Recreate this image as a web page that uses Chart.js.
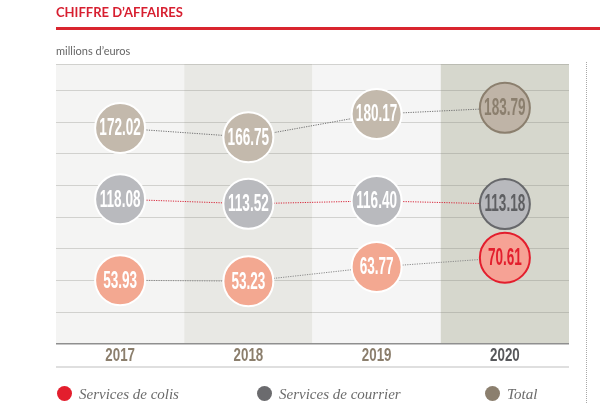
<!DOCTYPE html>
<html>
<head>
<meta charset="utf-8">
<script src="https://cdn.jsdelivr.net/npm/chart.js@4.4.0/dist/chart.umd.min.js"></script>
<style>
  html, body { margin: 0; padding: 0; background: #fff; }
  #wrap { position: relative; width: 600px; height: 404px; overflow: hidden; }
  #chart { position: absolute; left: 0; top: 0; }
  .title { position: absolute; left: 56px; top: 4px; font: bold 13px Lato, "Liberation Sans", sans-serif; color: #d71f30; }
  .rule { position: absolute; left: 56px; top: 27px; width: 544px; height: 3px; background: #d9252f; }
  .unit { position: absolute; left: 56px; top: 44px; font: 11px Lato, "Open Sans", sans-serif; color: #666; }
  .leg { position: absolute; top: 386px; font: italic 15px "Liberation Serif", serif; color: #6b6b6b; white-space: nowrap; }
  .dot { display: inline-block; width: 15px; height: 15px; border-radius: 50%; vertical-align: -2px; margin-right: 7px; }
</style>
</head>
<body>
<div id="wrap">
  <canvas id="chart" width="600" height="404"></canvas>
  <div class="title">CHIFFRE D’AFFAIRES</div>
  <div class="rule"></div>
  <div class="unit">millions d’euros</div>
  <div class="leg" style="left:57px"><span class="dot" style="background:#e31e2d"></span>Services de colis</div>
  <div class="leg" style="left:257px"><span class="dot" style="background:#6b6b6e"></span>Services de courrier</div>
  <div class="leg" style="left:485px"><span class="dot" style="background:#8b7f6e"></span>Total</div>
</div>
<script>
// data
const years = ['2017', '2018', '2019', '2020'];
const colisValues = [53.93, 53.23, 63.77, 70.61];
const courrierValues = [118.08, 113.52, 116.40, 113.18];
const totalValues = [172.02, 166.75, 180.17, 183.79];

const bandColors = ['#f4f4f3', '#e8e8e4', '#f5f5f5', '#d6d7cd'];
const last = years.length - 1;

function pointColors(normal, highlight) {
  return years.map((y, i) => i === last ? highlight : normal);
}

// condensed look: squeeze ordinary bold text horizontally
function squeezedText(ctx, text, x, y, size, squeeze, color) {
  ctx.save();
  ctx.translate(x, y);
  ctx.scale(squeeze, 1);
  ctx.font = 'bold ' + size + 'px "Liberation Sans", Arial, sans-serif';
  ctx.textAlign = 'center';
  ctx.textBaseline = 'middle';
  ctx.fillStyle = color;
  ctx.fillText(text, 0, 0);
  ctx.restore();
}

const bandPlugin = {
  id: 'bands',
  beforeDraw(chart) {
    const { ctx, chartArea: a, scales: { x } } = chart;
    const w = (a.right - a.left) / years.length;
    ctx.save();
    years.forEach((y, i) => {
      const c = x.getPixelForValue(i);
      ctx.fillStyle = bandColors[i];
      ctx.fillRect(c - w / 2, a.top, w, a.bottom - a.top);
    });
    ctx.restore();
  },
  afterDraw(chart) {
    const { ctx, chartArea: a, scales: { x } } = chart;
    // year labels
    years.forEach((y, i) => {
      squeezedText(ctx, y, x.getPixelForValue(i), a.bottom + 12, 18, 0.74, i === last ? '#56575a' : '#8b7e6c');
    });
    ctx.save();
    // light rule under the years
    ctx.strokeStyle = '#d4d4d4';
    ctx.lineWidth = 1.5;
    ctx.beginPath();
    ctx.moveTo(a.left, 367);
    ctx.lineTo(a.right, 367);
    ctx.stroke();
    // dotted separator on the right
    ctx.strokeStyle = '#a8a8a8';
    ctx.lineWidth = 1;
    ctx.setLineDash([1, 1]);
    ctx.beginPath();
    ctx.moveTo(586.5, 62);
    ctx.lineTo(586.5, 404);
    ctx.stroke();
    ctx.restore();
  }
};

const valuePlugin = {
  id: 'values',
  afterDatasetsDraw(chart) {
    chart.data.datasets.forEach((ds, di) => {
      chart.getDatasetMeta(di).data.forEach((pt, i) => {
        squeezedText(chart.ctx, ds.data[i].toFixed(2), pt.x, pt.y + 1, 23, 0.59, ds.textColors[i]);
      });
    });
  }
};

function series(label, values, axis, lineColor, fill, fillLast, edgeLast, textLast) {
  return {
    label: label,
    data: values,
    yAxisID: axis,
    borderColor: lineColor,
    borderWidth: 1,
    borderDash: [1.2, 1.2],
    pointRadius: 25,
    pointHoverRadius: 25,
    pointBorderWidth: 2,
    pointBackgroundColor: pointColors(fill, fillLast),
    pointBorderColor: pointColors('#ffffff', edgeLast),
    textColors: pointColors('#ffffff', textLast),
    tension: 0
  };
}

new Chart(document.getElementById('chart'), {
  type: 'line',
  data: {
    labels: years,
    datasets: [
      series('Total', totalValues, 'yTot', '#707070', '#c3b9ac', '#bfb4a7', '#8b7f6e', '#8b7f6e'),
      series('Services de courrier', courrierValues, 'yCou', '#d8273a', '#b9babe', '#b8b9bd', '#67686b', '#5e5f62'),
      series('Services de colis', colisValues, 'yCol', '#8a8a8a', '#f3a891', '#f6a295', '#e31e2d', '#e31e2d')
    ]
  },
  options: {
    responsive: false,
    animation: false,
    events: [],
    layout: { padding: { left: 56, right: 31, top: 64, bottom: 0 } },
    plugins: { legend: { display: false }, tooltip: { enabled: false } },
    scales: {
      x: {
        type: 'category',
        offset: true,
        grid: { display: false },
        border: { display: false },
        ticks: { display: false },
        afterFit: (s) => { s.height = 60; }
      },
      yg: {
        position: 'left',
        min: 0,
        max: 8.84,
        ticks: { display: false, stepSize: 1 },
        border: { display: false },
        grid: {
          drawTicks: false,
          color: (c) => c.tick.value === 0 ? '#8f8f8f' : 'rgba(120,120,110,0.28)',
          lineWidth: (c) => c.tick.value === 0 ? 1.5 : 1
        },
        afterFit: (s) => { s.width = 0; }
      },
      yTot: { display: false, min: 46.5, max: 209.3 },
      yCou: { display: false, min: -26.7, max: 253.3 },
      yCol: { display: false, min: 6.7, max: 214.1 }
    }
  },
  plugins: [bandPlugin, valuePlugin]
});
</script>
</body>
</html>
